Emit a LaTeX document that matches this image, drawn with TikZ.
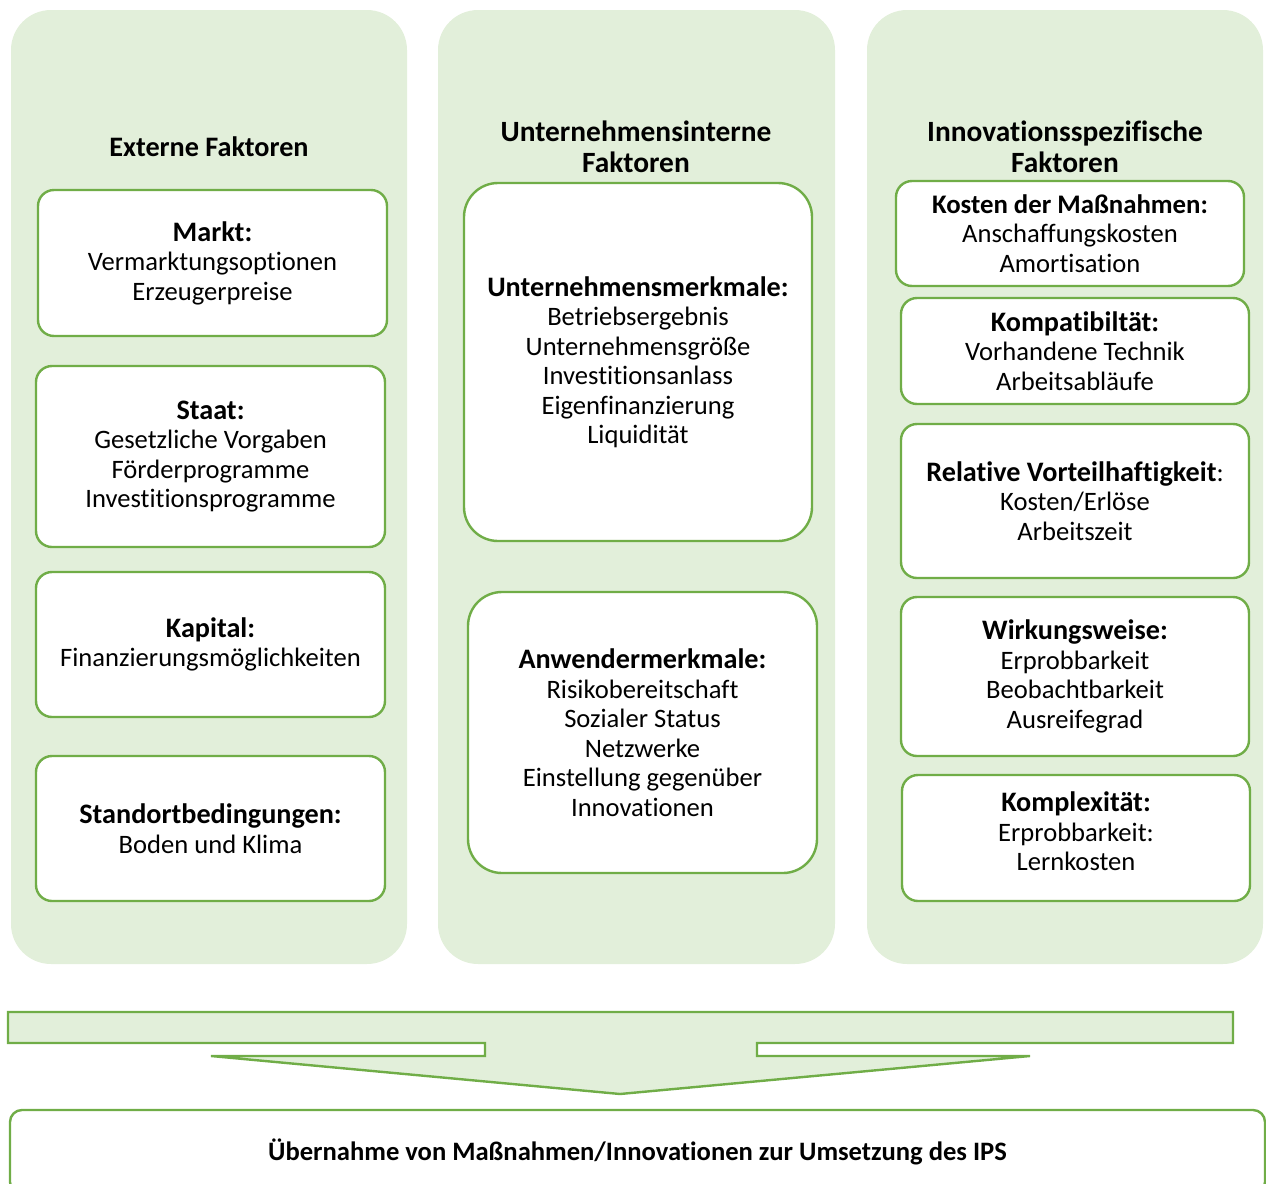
\documentclass[tikz,border=0pt]{standalone}
\usepackage{fontspec}
\setmainfont{Carlito}[Ligatures={NoCommon,NoContextual}]
\definecolor{gborder}{HTML}{70AD47}
\definecolor{gfill}{HTML}{E2EFDA}
\newcommand\hd[1]{{\fontsize{14.1}{14.75}\selectfont\bfseries #1}}
\begin{document}
\begin{tikzpicture}[x=0.5pt,y=-0.5pt,
  col/.style={fill=gfill, draw=none, rounded corners=20pt, inner sep=0pt},
  fbox/.style={draw=gborder, line width=1.2pt, fill=white, rounded corners=8pt, align=center, inner sep=0pt, font=\fontsize{13.3}{14.75}\selectfont},
  bigbox/.style={fbox, rounded corners=17pt},
  ttl/.style={align=center, font=\fontsize{14.7}{15.5}\selectfont\bfseries},
  arrowshape/.style={draw=gborder, fill=gfill, line width=1.2pt, line join=miter}]
\useasboundingbox (0,0) rectangle (1266,1184);
% column backgrounds
\node[col, minimum width=198pt, minimum height=477pt] (c1) at (209,487) {};
\node[col, minimum width=198.5pt, minimum height=477pt] (c2) at (636.5,487) {};
\node[col, minimum width=198pt, minimum height=477pt] (c3) at (1065,487) {};
% titles
\node[ttl, font=\fontsize{14.1}{15.5}\selectfont\bfseries] (t1) at (209,147) {Externe Faktoren};
\node[ttl] (t2) at (636,147) {Unternehmensinterne\\Faktoren};
\node[ttl] (t3) at (1065,147) {Innovationsspezifische\\Faktoren};
% column 1
\node[fbox, minimum width=174.5pt, minimum height=73pt] (markt) at (212.5,263)
  {\hd{Markt:}\\Vermarktungsoptionen\\Erzeugerpreise};
\node[fbox, minimum width=174.5pt, minimum height=90.5pt] (staat) at (210.5,456.5)
  {\hd{Staat:}\\Gesetzliche Vorgaben\\Förderprogramme\\Investitionsprogramme};
\node[fbox, minimum width=174.5pt, minimum height=72.5pt] (kapital) at (210.5,644.5)
  {\hd{Kapital:}\\Finanzierungsmöglichkeiten};
\node[fbox, minimum width=174.5pt, minimum height=72.5pt] (standort) at (210.5,828.5)
  {\hd{Standortbedingungen:}\\Boden und Klima};
% column 2
\node[bigbox, minimum width=174pt, minimum height=179pt] (um) at (638,362)
  {\hd{Unternehmensmerkmale:}\\Betriebsergebnis\\Unternehmensgröße\\Investitionsanlass\\Eigenfinanzierung\\Liquidität};
\node[bigbox, minimum width=174.5pt, minimum height=140.5pt] (am) at (642.5,732.5)
  {\hd{Anwendermerkmale:}\\Risikobereitschaft\\Sozialer Status\\Netzwerke\\Einstellung gegenüber\\Innovationen};
% column 3
\node[fbox, minimum width=174pt, minimum height=52.5pt] (kosten) at (1070,233.5)
  {{\fontsize{13.4}{14.75}\selectfont\bfseries Kosten der Maßnahmen:}\\Anschaffungskosten\\Amortisation};
\node[fbox, minimum width=174pt, minimum height=53pt] (kompat) at (1075,351)
  {\hd{Kompatibiltät:}\\Vorhandene Technik\\Arbeitsabläufe};
\node[fbox, minimum width=174pt, minimum height=77pt] (relativ) at (1075,501)
  {\hd{Relative Vorteilhaftigkeit}:\\Kosten/Erlöse\\Arbeitszeit};
\node[fbox, minimum width=174pt, minimum height=79.5pt] (wirkung) at (1075,676.5)
  {\hd{Wirkungsweise:}\\Erprobbarkeit\\Beobachtbarkeit\\Ausreifegrad};
\node[fbox, minimum width=174pt, minimum height=63pt] (komplex) at (1076,838)
  {\hd{Komplexität:}\\Erprobbarkeit:\\Lernkosten\\[-8pt]};
% arrow
\draw[arrowshape] (8,1012) -- (1233,1012) -- (1233,1043) -- (757,1043) -- (757,1056)
  -- (1030,1056) -- (620,1094) -- (211,1056) -- (485,1056) -- (485,1043) -- (8,1043) -- cycle;
% result box
\node[fbox, rounded corners=6pt, minimum width=627.5pt, minimum height=42pt, font=\fontsize{13.3}{14.75}\selectfont\bfseries] (result) at (637.5,1152)
  {Übernahme von Maßnahmen/Innovationen zur Umsetzung des IPS};
\end{tikzpicture}
\end{document}
